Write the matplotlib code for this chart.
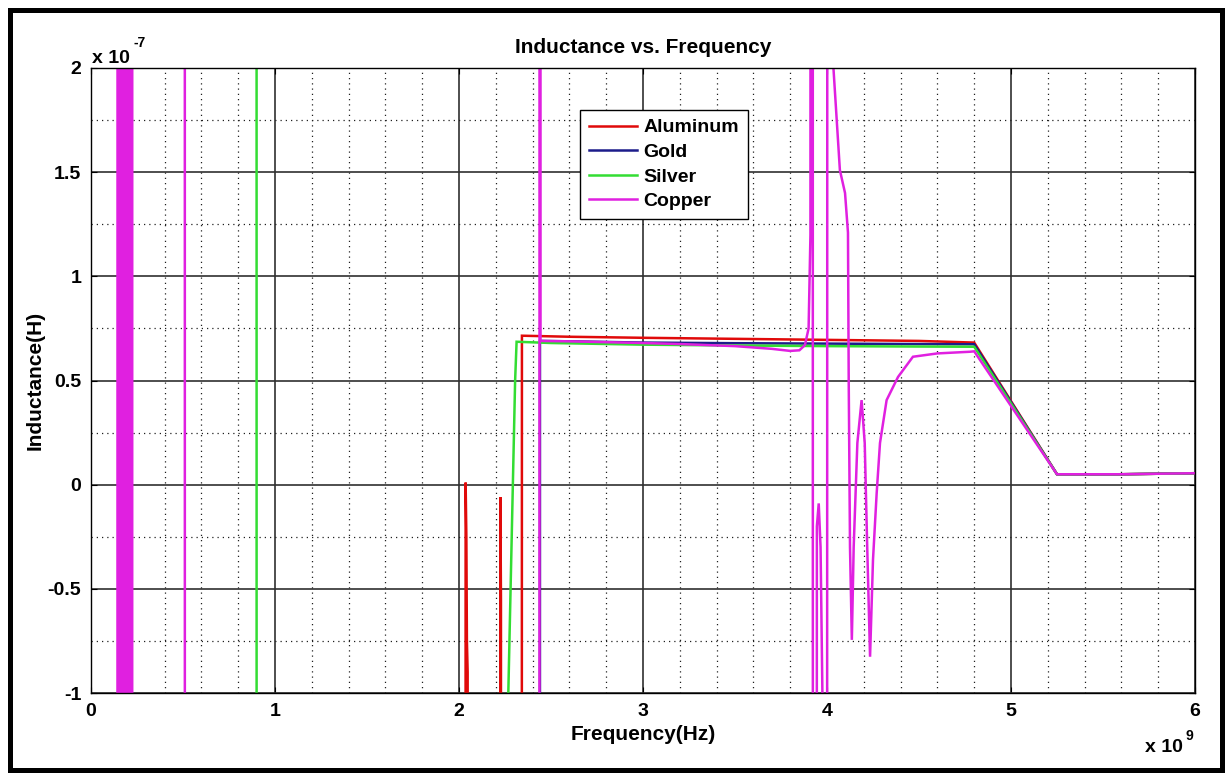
import matplotlib
matplotlib.use("Agg")
import matplotlib.pyplot as plt
from matplotlib.patches import Rectangle
from matplotlib.ticker import MultipleLocator

# Units: frequency in 1e9 Hz, inductance in 1e-7 H (values off-chart are clipped)
X_SCALE_EXP = 9
Y_SCALE_EXP = -7

al_x = [0.0, 2.025, 2.036, 2.040, 2.043, 2.047, 2.052, 2.218, 2.225, 2.228, 2.232,
        2.330, 2.342, 2.6, 3.0, 3.5, 4.0, 4.5, 4.8, 5.25, 5.6, 6.0]
al_y = [-50, -50, 0.01, -0.25, -0.75, -0.9, -50, -50, -0.06, -0.55, -50,
        -50, 0.715, 0.71, 0.705, 0.70, 0.695, 0.69, 0.682, 0.05, 0.05, 0.055]

au_x = [0.0, 2.435, 2.440, 2.6, 3.0, 3.5, 4.0, 4.5, 4.8, 5.25, 5.6, 6.0]
au_y = [-50, -50, 0.69, 0.688, 0.682, 0.679, 0.677, 0.675, 0.674, 0.05, 0.05, 0.055]

ag_x = [0.0, 0.898, 0.902, 2.262, 2.268, 2.305, 2.313, 2.5, 3.0, 3.5, 4.0, 4.5, 4.8,
        5.25, 5.6, 6.0]
ag_y = [50, 50, -50, -50, -1.0, 0.5, 0.686, 0.68, 0.672, 0.668, 0.665, 0.663, 0.662,
        0.05, 0.05, 0.055]

cu_x = [0.0, 0.140, 0.148, 0.156, 0.164, 0.172, 0.180, 0.188, 0.196, 0.204, 0.212,
        0.220, 0.228, 0.508, 0.512, 2.436, 2.439, 2.443, 2.6, 3.0, 3.2, 3.5, 3.7,
        3.8, 3.85, 3.88, 3.90, 3.91, 3.918, 3.928, 3.945, 3.955, 3.965, 3.975,
        3.99, 4.012, 4.035, 4.07, 4.098, 4.114, 4.118, 4.125, 4.135, 4.145,
        4.165, 4.188, 4.205, 4.218, 4.234, 4.25, 4.27, 4.288, 4.324, 4.386,
        4.467, 4.6, 4.777, 4.8, 5.25, 5.6, 6.0]
cu_y = [-50, -50, 50, -50, 50, -50, 50, -50, 50, -50, 50,
        -50, 50, 50, -50, -50, 50, 0.69, 0.688, 0.68, 0.675, 0.665, 0.652,
        0.642, 0.645, 0.67, 0.75, 1.2, 50, -50, -0.2, -0.09, -0.3, -1.0,
        -50, 50, 2.0, 1.51, 1.40, 1.21, 0.5, -0.3, -0.745, -0.3,
        0.2, 0.406, 0.2, -0.28, -0.826, -0.36, -0.04, 0.2, 0.406, 0.517,
        0.614, 0.63, 0.638, 0.64, 0.05, 0.05, 0.055]

series_names = ["Aluminum", "Gold", "Silver", "Copper"]
series_colors = ["#e00a0a", "#1c1c8a", "#33dd33", "#e020e0"]

x_ticks = [0, 1, 2, 3, 4, 5, 6]
x_tick_labels = ["0", "1", "2", "3", "4", "5", "6"]
y_ticks = [-1, -0.5, 0, 0.5, 1, 1.5, 2]
y_tick_labels = ["-1", "-0.5", "0", "0.5", "1", "1.5", "2"]

W, H = 1226, 777
fig = plt.figure(figsize=(W / 100, H / 100), dpi=100)
fig.patch.set_facecolor("white")
FONT = "Liberation Sans"
FS = 15

ax = fig.add_axes([91 / W, 1 - 693 / H, (1195 - 91) / W, (693 - 68) / H])

data = [(al_x, al_y), (au_x, au_y), (ag_x, ag_y), (cu_x, cu_y)]
for (xs, ys), name, col in zip(data, series_names, series_colors):
    ax.plot(xs, ys, color=col, lw=1.8, label=name, solid_joinstyle="miter")

ax.set_xlim(0, 6)
ax.set_ylim(-1, 2)
ax.set_xticks(x_ticks)
ax.set_xticklabels(x_tick_labels)
ax.set_yticks(y_ticks)
ax.set_yticklabels(y_tick_labels)
ax.xaxis.set_minor_locator(MultipleLocator(0.2))
ax.yaxis.set_minor_locator(MultipleLocator(0.25))
ax.grid(True, which="major", color="#303030", lw=1.2, ls="-")
ax.grid(True, which="minor", color="#202020", lw=0.9, ls=(0, (1, 3.2)))
ax.set_axisbelow(True)
ax.tick_params(which="both", direction="in", top=True, right=True)
ax.tick_params(which="major", length=4)
ax.tick_params(which="minor", length=0)
for lab in ax.get_xticklabels() + ax.get_yticklabels():
    lab.set_fontfamily(FONT)
    lab.set_fontweight("bold")
    lab.set_fontsize(14)
ax.tick_params(axis="x", pad=7)
ax.tick_params(axis="y", pad=7)
for s in ax.spines.values():
    s.set_color("black")
    s.set_linewidth(1.0)

ax.set_title("Inductance vs. Frequency", fontfamily=FONT, fontweight="bold",
             fontsize=FS, pad=11)
ax.set_xlabel("Frequency(Hz)", fontfamily=FONT, fontweight="bold", fontsize=FS,
              labelpad=4)
ax.set_ylabel("Inductance(H)", fontfamily=FONT, fontweight="bold", fontsize=FS)
ax.yaxis.set_label_coords((45 - 91) / 1104, 0.5)

# MATLAB-style exponent labels
fig.text(92 / W, 1 - 63 / H, "x 10", fontfamily=FONT, fontweight="bold",
         fontsize=14, ha="left", va="baseline")
fig.text(133 / W, 1 - 47 / H, str(Y_SCALE_EXP), fontfamily=FONT, fontweight="bold",
         fontsize=10, ha="left", va="baseline")
fig.text(1145 / W, 1 - 752 / H, "x 10", fontfamily=FONT, fontweight="bold",
         fontsize=14, ha="left", va="baseline")
fig.text(1186 / W, 1 - 740 / H, str(X_SCALE_EXP), fontfamily=FONT, fontweight="bold",
         fontsize=10, ha="left", va="baseline")

leg = ax.legend(loc="upper left", bbox_to_anchor=((580 - 91) / 1104, 1 - (110 - 68) / 625),
                borderaxespad=0, frameon=True, fancybox=False, handlelength=2.5,
                handletextpad=0.3, labelspacing=0.36, borderpad=0.45,
                prop={"family": FONT, "weight": "bold", "size": 14})
leg.get_frame().set_edgecolor("black")
leg.get_frame().set_linewidth(1.0)
leg.get_frame().set_alpha(1)

# outer thick frame
fig.patches.append(Rectangle((9.5 / W, 1 - 770 / H), (1222 - 9.5) / W, (770 - 9.5) / H,
                             transform=fig.transFigure, fill=False, edgecolor="black",
                             lw=3.6))

fig.savefig("out.png", dpi=100)
